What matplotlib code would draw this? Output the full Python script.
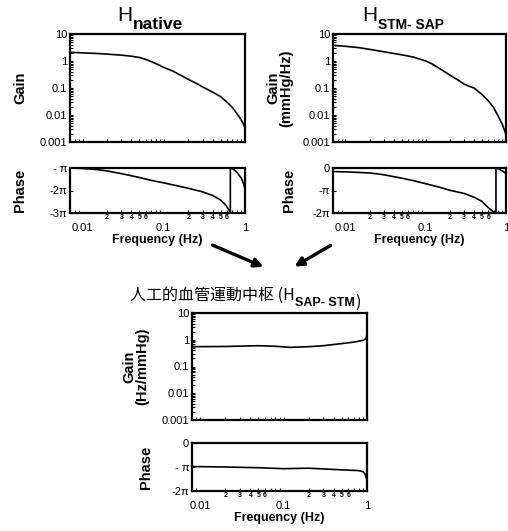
import numpy as np
import matplotlib
matplotlib.use('Agg')
import matplotlib.pyplot as plt
from matplotlib.patches import FancyArrowPatch
from matplotlib.text import Annotation

plt.rcParams['font.family'] = ['Liberation Sans', 'DejaVu Sans']
CJK = ['Noto Sans CJK JP', 'DejaVu Sans']

# ---- data ----
# H_native
freq_native = [0.007, 0.01, 0.015, 0.02, 0.03, 0.04, 0.05, 0.06, 0.07, 0.08, 0.1, 0.13,
               0.16, 0.2, 0.25, 0.3, 0.4, 0.5, 0.6, 0.7, 0.8, 0.9, 0.95, 1.0]
gain_native = [2.1, 2.0, 1.9, 1.8, 1.65, 1.5, 1.35, 1.15, 0.95, 0.8, 0.58, 0.42,
               0.3, 0.21, 0.15, 0.11, 0.07, 0.048, 0.03, 0.019, 0.011, 0.0065, 0.0048, 0.0035]
freq_native_ph = [0.007, 0.01, 0.015, 0.02, 0.03, 0.05, 0.07, 0.1, 0.15, 0.2, 0.3, 0.4,
                  0.5, 0.58, 0.63, 0.66, 0.66, 0.72, 0.8, 0.9, 0.96, 1.0]
phase_native = [-1.0, -1.02, -1.07, -1.13, -1.25, -1.42, -1.55, -1.66, -1.8, -1.9, -2.06, -2.22,
                -2.42, -2.65, -2.85, -3.0, -1.0, -1.05, -1.2, -1.45, -1.7, -1.95]

# H_STM-SAP
freq_stm = [0.007, 0.01, 0.015, 0.02, 0.03, 0.05, 0.07, 0.1, 0.12, 0.15, 0.2, 0.25,
            0.3, 0.35, 0.4, 0.5, 0.6, 0.7, 0.8, 0.9, 1.0]
gain_stm = [3.8, 3.5, 3.1, 2.7, 2.2, 1.7, 1.4, 1.0, 0.78, 0.52, 0.3, 0.2,
            0.14, 0.115, 0.1, 0.058, 0.034, 0.019, 0.009, 0.0045, 0.0019]
freq_stm_ph = [0.007, 0.01, 0.02, 0.03, 0.05, 0.07, 0.1, 0.15, 0.2, 0.3, 0.4, 0.5,
               0.6, 0.7, 0.75, 0.75, 0.82, 0.92, 1.0]
phase_stm = [-0.16, -0.17, -0.22, -0.3, -0.45, -0.56, -0.7, -0.86, -0.99, -1.13, -1.3, -1.48,
             -1.76, -1.95, -2.0, 0.0, -0.05, -0.15, -0.25]

# H_SAP-STM (artificial vasomotor center)
freq_sap = [0.008, 0.02, 0.05, 0.08, 0.12, 0.2, 0.3, 0.5, 0.7, 0.9, 0.97, 1.0]
gain_sap = [0.55, 0.56, 0.6, 0.57, 0.52, 0.55, 0.6, 0.72, 0.82, 0.95, 1.1, 1.6]
freq_sap_ph = [0.008, 0.02, 0.05, 0.1, 0.2, 0.3, 0.5, 0.8, 0.9, 0.95, 1.0]
phase_sap = [-0.98, -1.0, -1.03, -1.07, -1.05, -1.08, -1.12, -1.15, -1.2, -1.3, -1.55]

gain_ticks = [10, 1, 0.1, 0.01, 0.001]
gain_labels = ['10', '1', '0.1', '0.01', '0.001']
major_freqs = [0.01, 0.1, 1]
major_labels = ['0.01', '0.1', '1']
minor_mult = [2, 3, 4, 5, 6, 7, 8, 9]
minor_text = ['2', '3', '4', '5', '6', '', '', '']

W, H = 508, 531
fig = plt.figure(figsize=(W / 100, H / 100), dpi=100)


def px_axes(x0, y0, x1, y1):
    """axes from pixel box (top-left origin)"""
    return fig.add_axes([x0 / W, 1 - y1 / H, (x1 - x0) / W, (y1 - y0) / H])


def style(ax, xmin):
    ax.set_xscale('log')
    ax.set_xlim(xmin, 1.0)
    for s in ax.spines.values():
        s.set_linewidth(1.6)
    ax.tick_params(which='both', direction='in', length=2.5, width=0.8,
                   top=False, right=False)


def place_ylabel(ax, offset_px):
    # right edge of the rotated y label sits offset_px pixels left of the axes
    w_px = ax.get_position().width * W
    ax.yaxis.set_label_coords(-offset_px / w_px, 0.5)


def gain_panel(ax, f, g, xmin, ylabel, lab_off):
    style(ax, xmin)
    ax.plot(f, g, color='black', lw=1.2)
    ax.set_yscale('log')
    ax.set_ylim(0.001, 10)
    ax.set_yticks(gain_ticks, labels=gain_labels)
    ax.tick_params(axis='y', which='major', labelsize=8, pad=2)
    ax.tick_params(axis='x', which='both', labelbottom=False)
    ax.set_ylabel(ylabel, fontsize=10.5, fontweight='bold', linespacing=0.9)
    place_ylabel(ax, lab_off)


def phase_panel(ax, f, p, xmin, ylim, yt, ytl, lab_off):
    style(ax, xmin)
    ax.plot(f, np.array(p) * np.pi, color='black', lw=1.2)
    ax.set_ylim(ylim[0] * np.pi, ylim[1] * np.pi)
    ax.set_yticks(np.array(yt) * np.pi, labels=ytl)
    ax.tick_params(axis='y', labelsize=8, pad=2)
    ax.set_xticks(major_freqs, labels=major_labels)
    mpos = [m * d for d in (0.001, 0.01, 0.1) for m in minor_mult]
    mlab = [t for d in (0.001, 0.01, 0.1) for t in minor_text]
    keep = [(p_, l) for p_, l in zip(mpos, mlab) if xmin <= p_ <= 1]
    ax.set_xticks([k[0] for k in keep], labels=[k[1] for k in keep], minor=True)
    ax.tick_params(axis='x', which='major', labelsize=8, pad=7, length=0)
    ax.tick_params(axis='x', which='minor', labelsize=5, pad=1)
    for lab in ax.get_xticklabels(minor=True):
        lab.set_fontweight('bold')
    ax.set_xlabel('Frequency (Hz)', fontsize=9, fontweight='bold', labelpad=1)
    ax.set_ylabel('Phase', fontsize=10.5, fontweight='bold')
    place_ylabel(ax, lab_off)


def sub_title(x, y, main, sub, size, sub_size, drop, fam=None):
    """main text followed by a bold subscript; returns the subscript artist"""
    kw = {} if fam is None else {'family': fam}
    t1 = fig.text(x / W, 1 - y / H, main, fontsize=size, ha='left', va='baseline', **kw)
    t2 = Annotation(sub, xy=(1.0, 0.0), xycoords=t1, xytext=(0.5, -drop),
                    textcoords='offset points', fontsize=sub_size, fontweight='bold',
                    ha='left', va='baseline', annotation_clip=False)
    fig.add_artist(t2)
    return t2


# top-left: H_native
ax1 = px_axes(70, 34, 245, 142)
gain_panel(ax1, freq_native, gain_native, 0.007, 'Gain', 43)
ax2 = px_axes(70, 168, 245, 213)
phase_panel(ax2, freq_native_ph, phase_native, 0.007, (-3, -1), [-1, -2, -3],
            ['- π', '-2π', '-3π'], 43)

# top-right: H_STM-SAP
ax3 = px_axes(333, 34, 506, 142)
gain_panel(ax3, freq_stm, gain_stm, 0.007, 'Gain\n(mmHg/Hz)', 40)
ax4 = px_axes(333, 168, 506, 213)
phase_panel(ax4, freq_stm_ph, phase_stm, 0.007, (-2, 0), [0, -1, -2],
            ['0', '-π', '-2π'], 37)

# bottom: H_SAP-STM
ax5 = px_axes(192, 313, 367, 420)
gain_panel(ax5, freq_sap, gain_sap, 0.008, 'Gain\n(Hz/mmHg)', 43)
ax6 = px_axes(192, 443, 367, 491)
phase_panel(ax6, freq_sap_ph, phase_sap, 0.008, (-2, 0), [0, -1, -2],
            ['0', '- π', '-2π'], 39)

# titles
sub_title(117, 21, 'H', 'native', 15, 12.5, 3)
sub_title(362, 21, 'H', 'STM- SAP', 15, 10, 3)
t_sub = sub_title(130, 300, '人工的血管運動中枢 (H', 'SAP- STM', 11.5, 9, 1.5, fam=CJK)
fig.add_artist(Annotation(')', xy=(1.0, 0.0), xycoords=t_sub, xytext=(0.3, 1.5),
                          textcoords='offset points', fontsize=11.5, family=CJK,
                          ha='left', va='baseline', annotation_clip=False))

# arrows between panels
for (xa, ya), (xb, yb) in [((210, 244), (266, 268)), ((333, 244), (292, 268))]:
    fig.add_artist(FancyArrowPatch((xa / W, 1 - ya / H), (xb / W, 1 - yb / H),
                                   transform=fig.transFigure, arrowstyle='-|>',
                                   mutation_scale=13, lw=2.4, color='black'))

fig.savefig('out.png', dpi=100)
